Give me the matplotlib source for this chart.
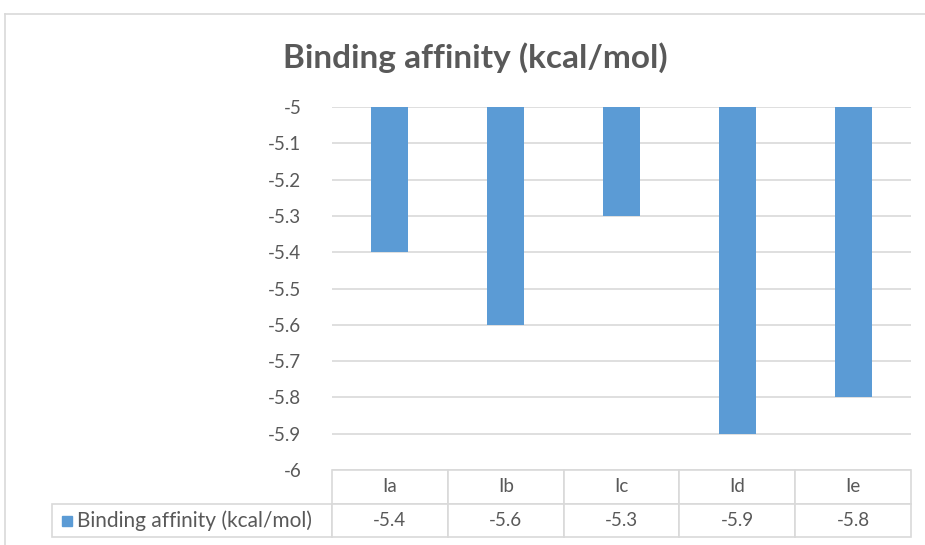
"""
Binding affinity of compounds Ia-Ie, Excel-style column chart with data table.
"""

import matplotlib
matplotlib.use("Agg")
import matplotlib.pyplot as plt
from matplotlib.lines import Line2D
from matplotlib.patches import Rectangle
import numpy as np

plt.rcParams['font.family'] = ['Lato', 'DejaVu Sans']

categories = ["Ia", "Ib", "Ic", "Id", "Ie"]
affinity = [-5.4, -5.6, -5.3, -5.9, -5.8]
series_name = "Binding affinity (kcal/mol)"
yticks = [-5, -5.1, -5.2, -5.3, -5.4, -5.5, -5.6, -5.7, -5.8, -5.9, -6]

bar_color = "#5b9bd5"
grid_color = "#d9d9d9"
text_color = "#595959"

fig = plt.figure(figsize=(9.25, 5.45), dpi=100)
fig.patch.set_facecolor("white")

# chart frame (only top and left visible in the crop)
fig.add_artist(Line2D([5 / 925, 5 / 925], [0, 1 - 14 / 545], color=grid_color, lw=1.2))
fig.add_artist(Line2D([5 / 925, 1], [1 - 14 / 545, 1 - 14 / 545], color=grid_color, lw=1.2))

ax = fig.add_axes([332 / 925, 1 - 470 / 545, 579 / 925, 363 / 545])

x = np.arange(len(categories))
base = -5
vals = np.array(affinity)
ax.bar(x, vals - base, bottom=base, width=0.32, color=bar_color, zorder=3)

ax.set_xlim(-0.5, len(categories) - 0.5)
ax.set_ylim(-6, -5)
ax.set_yticks(yticks)
ax.set_yticklabels(["%g" % t for t in yticks])
ax.set_xticks([])
ax.yaxis.grid(True, color=grid_color, lw=1.2, zorder=0)
ax.tick_params(axis="y", length=0, pad=22, labelsize=13.5, labelcolor=text_color)
for s in ax.spines.values():
    s.set_visible(False)

fig.text(475 / 925, 1 - 58 / 545, series_name, ha="center", va="center",
         fontsize=24, fontweight="bold", color=text_color)

# data table under the axis
label_w = 280 / 579
cell_text = [[""] + categories,
             [series_name] + ["%g" % v for v in affinity]]
tbl = ax.table(cellText=cell_text,
               colWidths=[label_w] + [1 / len(categories)] * len(categories),
               cellLoc="center",
               bbox=[-label_w, -67 / 363, 1 + label_w, 67 / 363])
tbl.auto_set_font_size(False)
tbl.set_fontsize(13.5)
for (r, c), cell in tbl.get_celld().items():
    cell.set_edgecolor(grid_color)
    cell.set_linewidth(1.2)
    cell.get_text().set_color(text_color)
    if r == 0 and c == 0:
        cell.visible_edges = ""
    if r == 1 and c == 0:
        cell.get_text().set_ha("left")
        cell.get_text().set_fontsize(15)
        cell.PAD = 0.09

# legend key in the table
ax.add_patch(Rectangle((-270 / 579, -56 / 363), 10 / 579, 10 / 363,
                       transform=ax.transAxes, color=bar_color, clip_on=False))

fig.savefig("out.png", dpi=100)
